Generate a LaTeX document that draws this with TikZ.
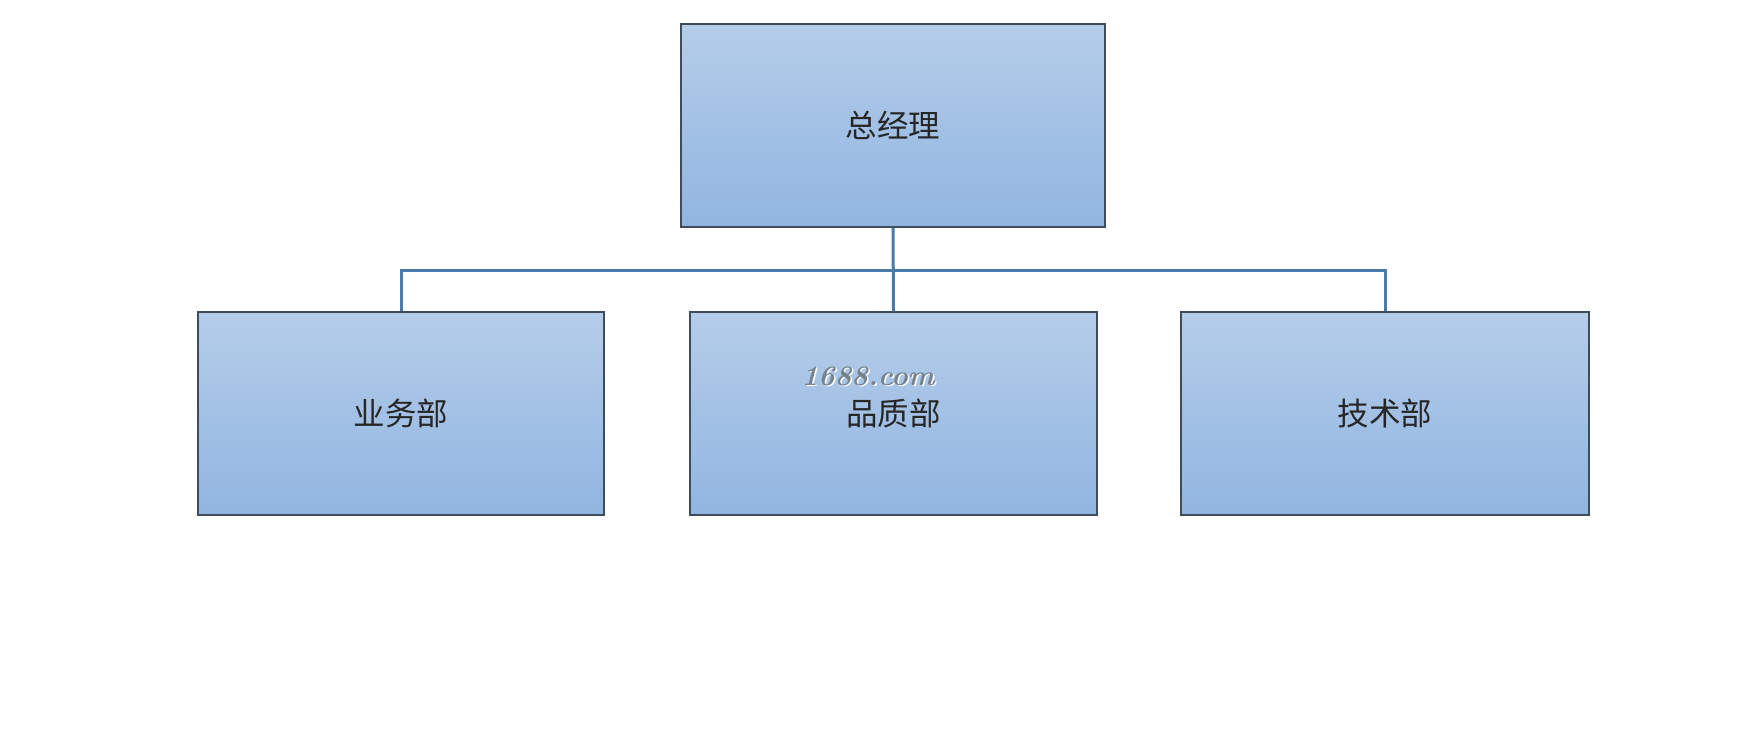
\documentclass[tikz,border=0pt]{standalone}
\usepackage{fontspec}
\newfontfamily\cjk{Noto Sans CJK SC}
\begin{document}
\begin{tikzpicture}[x=1pt,y=-1pt,
  orgbox/.style={draw=boxline, line width=1.2pt, top color=boxtop, bottom color=boxbot,
    minimum width=#1, minimum height=203pt, inner sep=0pt, font=\cjk\fontsize{31.5}{36}\selectfont, text=black!85},
  orgbox/.default=407pt,
  link/.style={draw=linkblue, line width=3pt}]
\definecolor{boxtop}{HTML}{B5CDE9}
\definecolor{boxbot}{HTML}{91B5E1}
\definecolor{boxline}{HTML}{3E4C5C}
\definecolor{linkblue}{HTML}{4A7CAA}
\definecolor{wmgray}{HTML}{76838F}
\useasboundingbox[fill=white] (0,0) rectangle (1737,747);
\node[orgbox=424pt] (gm) at (893,125.5) {总经理};
\node[orgbox=406pt] (biz) at (401,413.5) {业务部};
\node[orgbox=407pt] (qa) at (893.5,413.5) {品质部};
\node[orgbox=408pt] (tech) at (1385,413.5) {技术部};
\coordinate (bus) at (0,270);
\draw[link] (gm.south) -- (qa.north);
\draw[link] (biz.north) -- (biz.north |- bus) -- (tech.north |- bus) -- (tech.north);
\node[text=white, font=\bfseries\itshape\fontsize{24}{28}\selectfont] (wmshadow) at (869.5,377.5) {\resizebox{133pt}{!}{1688.com}};
\node[text=wmgray, font=\bfseries\itshape\fontsize{24}{28}\selectfont] (wm) at (868,376) {\resizebox{133pt}{!}{1688.com}};
\end{tikzpicture}
\end{document}
